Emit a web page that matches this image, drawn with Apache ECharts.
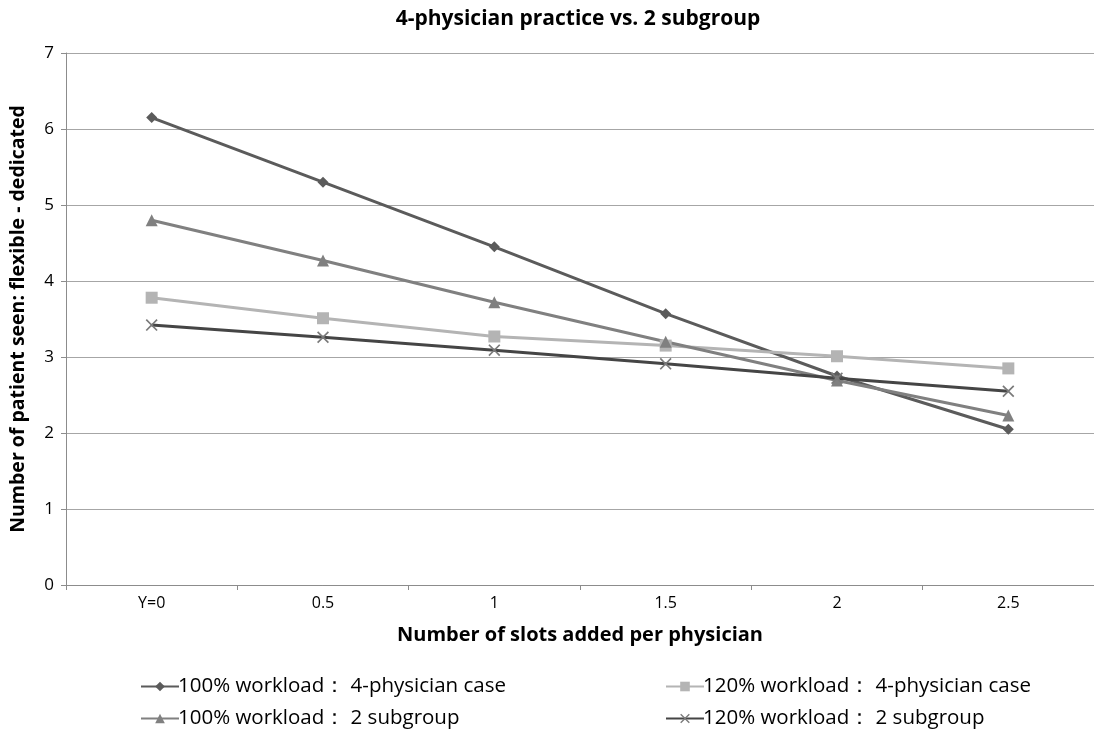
<!DOCTYPE html>
<html><head><meta charset="utf-8">
<script src="https://cdn.jsdelivr.net/npm/echarts@6/dist/echarts.min.js"></script>
<style>html,body{margin:0;padding:0;background:#fff}#c{width:1094px;height:739px}</style>
</head><body><div id="c"></div>
<script>
const categories = ['Y=0', '0.5', '1', '1.5', '2', '2.5'];
const seriesNames = ['100% workload： 4-physician case', '120% workload： 4-physician case', '100% workload： 2 subgroup', '120% workload： 2 subgroup'];
const s100four = [6.15, 5.30, 4.45, 3.57, 2.75, 2.05];
const s120four = [3.78, 3.51, 3.27, 3.15, 3.01, 2.85];
const s100two = [4.80, 4.27, 3.72, 3.20, 2.69, 2.23];
const s120two = [3.42, 3.26, 3.09, 2.91, 2.72, 2.55];
const yTicks = {min: 0, max: 7, interval: 1};

const FONT = '"Open Sans", "DejaVu Sans", sans-serif';
const cross = 'path://M0,1L1,0L5,4L9,0L10,1L6,5L10,9L9,10L5,6L1,10L0,9L4,5Z';
const chart = echarts.init(document.getElementById('c'));
function ser(name, data, color, symbol, size, symColor) {
  return {
    name, type: 'line', data, symbol, symbolSize: size,
    lineStyle: {color, width: 3},
    itemStyle: {color: symColor || color},
    emphasis: {disabled: true}, animation: false
  };
}
const legendText = {fontFamily: FONT, fontSize: 20.5, color: '#000', padding: [0,0,0,-6]};
chart.setOption({
  animation: false,
  textStyle: {fontFamily: FONT},
  title: {
    text: '4-physician practice vs. 2 subgroup', left: 573, top: 4, textAlign: 'center',
    textStyle: {fontFamily: FONT, fontWeight: 'bold', fontSize: 21, color: '#000'}
  },
  legend: [
    {data: [seriesNames[0], seriesNames[2]], orient: 'vertical', left: 135, top: 671, itemGap: 11,
     itemWidth: 38, itemHeight: 12, textStyle: legendText},
    {data: [seriesNames[1], seriesNames[3]], orient: 'vertical', left: 660, top: 671, itemGap: 11,
     itemWidth: 38, itemHeight: 12, textStyle: legendText}
  ],
  grid: {left: 64, top: 53, width: 1032, height: 532, containLabel: false},
  xAxis: {
    type: 'category', data: categories, boundaryGap: true,
    name: 'Number of slots added per physician', nameLocation: 'middle', nameGap: 40,
    nameTextStyle: {fontFamily: FONT, fontWeight: 'bold', fontSize: 20, color: '#000'},
    axisLine: {lineStyle: {color: '#8c8c8c', width: 1}},
    axisTick: {show: true, alignWithLabel: false, length: 5, lineStyle: {color: '#8c8c8c'}},
    axisLabel: {fontFamily: FONT, fontSize: 16, color: '#000', margin: 10}
  },
  yAxis: {
    type: 'value', min: yTicks.min, max: yTicks.max, interval: yTicks.interval,
    name: 'Number of patient seen: flexible - dedicated', nameLocation: 'middle', nameGap: 38,
    nameTextStyle: {fontFamily: FONT, fontWeight: 'bold', fontSize: 19.5, color: '#000'},
    axisLine: {show: true, lineStyle: {color: '#8c8c8c', width: 1}},
    axisTick: {show: true, length: 5, lineStyle: {color: '#8c8c8c'}},
    axisLabel: {fontFamily: FONT, fontSize: 17, color: '#000', margin: 12},
    splitLine: {lineStyle: {color: '#a6a6a6', width: 1}}
  },
  series: [
    ser(seriesNames[0], s100four, '#5b5b5b', 'diamond', 11),
    ser(seriesNames[1], s120four, '#b4b4b4', 'rect', 12),
    ser(seriesNames[2], s100two, '#808080', 'triangle', 12),
    ser(seriesNames[3], s120two, '#454545', cross, 12, '#7a7a7a')
  ]
});
</script></body></html>
